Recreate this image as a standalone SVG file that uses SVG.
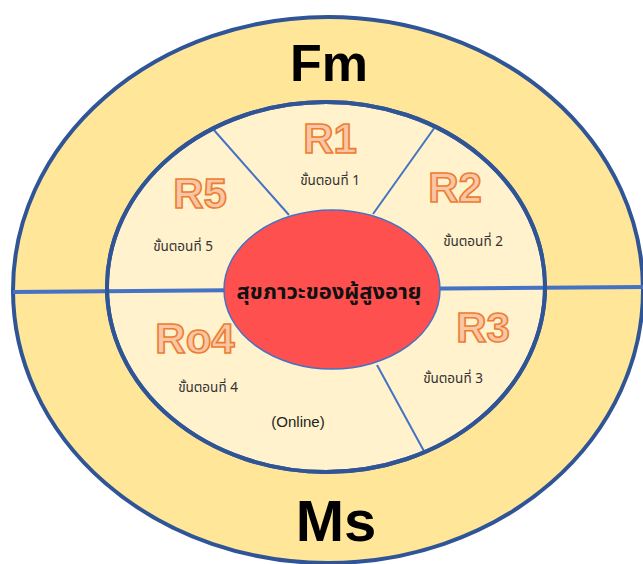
<svg xmlns="http://www.w3.org/2000/svg" width="643" height="564" viewBox="0 0 643 564">
<style>
.ring{stroke:#2F5597;stroke-width:4}
.div{stroke:#4472C4;stroke-width:2;fill:none}
.rl{font-family:"Liberation Sans",Arial,sans-serif;font-weight:bold;font-size:42px;fill:#F8C6A4;stroke:#ED7D31;stroke-width:1.6;text-anchor:middle}
.big{font-family:"Liberation Sans",Arial,sans-serif;font-weight:bold;fill:#000;text-anchor:middle}
.th{font-family:"Noto Sans Thai","Noto Sans Thai UI","Noto Sans","DejaVu Sans",sans-serif;font-size:13.5px;fill:#333;text-anchor:middle}
.sm{font-family:"Liberation Sans",Arial,sans-serif;font-size:15px;fill:#222;text-anchor:middle}
</style>
<rect width="643" height="564" fill="#fff"/>
<g id="outer">
<ellipse cx="328" cy="290" rx="315" ry="273" fill="#FFE699" class="ring"/>
<text class="big" x="329" y="81" font-size="52">Fm</text>
<text class="big" x="336" y="541" font-size="58">Ms</text>
</g>
<g id="inner">
<ellipse cx="326" cy="287" rx="219" ry="185" fill="#FFF2CC" class="ring"/>
</g>
<g id="connectors">
<line x1="13" y1="292" x2="643" y2="287" stroke="#4472C4" stroke-width="4"/>
<line class="div" x1="213" y1="129" x2="289" y2="215"/>
<line class="div" x1="435" y1="127" x2="373" y2="214"/>
<line class="div" x1="377" y1="365" x2="425" y2="453"/>
</g>
<g id="inner-outline">
<ellipse cx="326" cy="287" rx="219" ry="185" fill="none" class="ring"/>
</g>
<g id="r1"><text class="rl" x="330" y="153">R1</text><text class="th" x="330" y="185">ขั้นตอนที่ 1</text></g>
<g id="r2"><text class="rl" x="455" y="202">R2</text><text class="th" x="473" y="246">ขั้นตอนที่ 2</text></g>
<g id="r3"><text class="rl" x="483" y="342">R3</text><text class="th" x="453" y="383">ขั้นตอนที่ 3</text></g>
<g id="r4"><text class="rl" x="195" y="353">Ro4</text><text class="th" x="208" y="392">ขั้นตอนที่ 4</text><text class="sm" x="298" y="427">(Online)</text></g>
<g id="r5"><text class="rl" x="200" y="208">R5</text><text class="th" x="183" y="251">ขั้นตอนที่ 5</text></g>
<g id="center">
<ellipse cx="332" cy="289.5" rx="108" ry="79.5" fill="#FF5050" stroke="#4472C4" stroke-width="1.5"/>
<text x="329" y="299" font-family="Noto Sans Thai,Noto Sans,DejaVu Sans,sans-serif" font-weight="bold" font-size="22" text-anchor="middle" fill="#111">สุขภาวะของผู้สูงอายุ</text>
</g>
</svg>
